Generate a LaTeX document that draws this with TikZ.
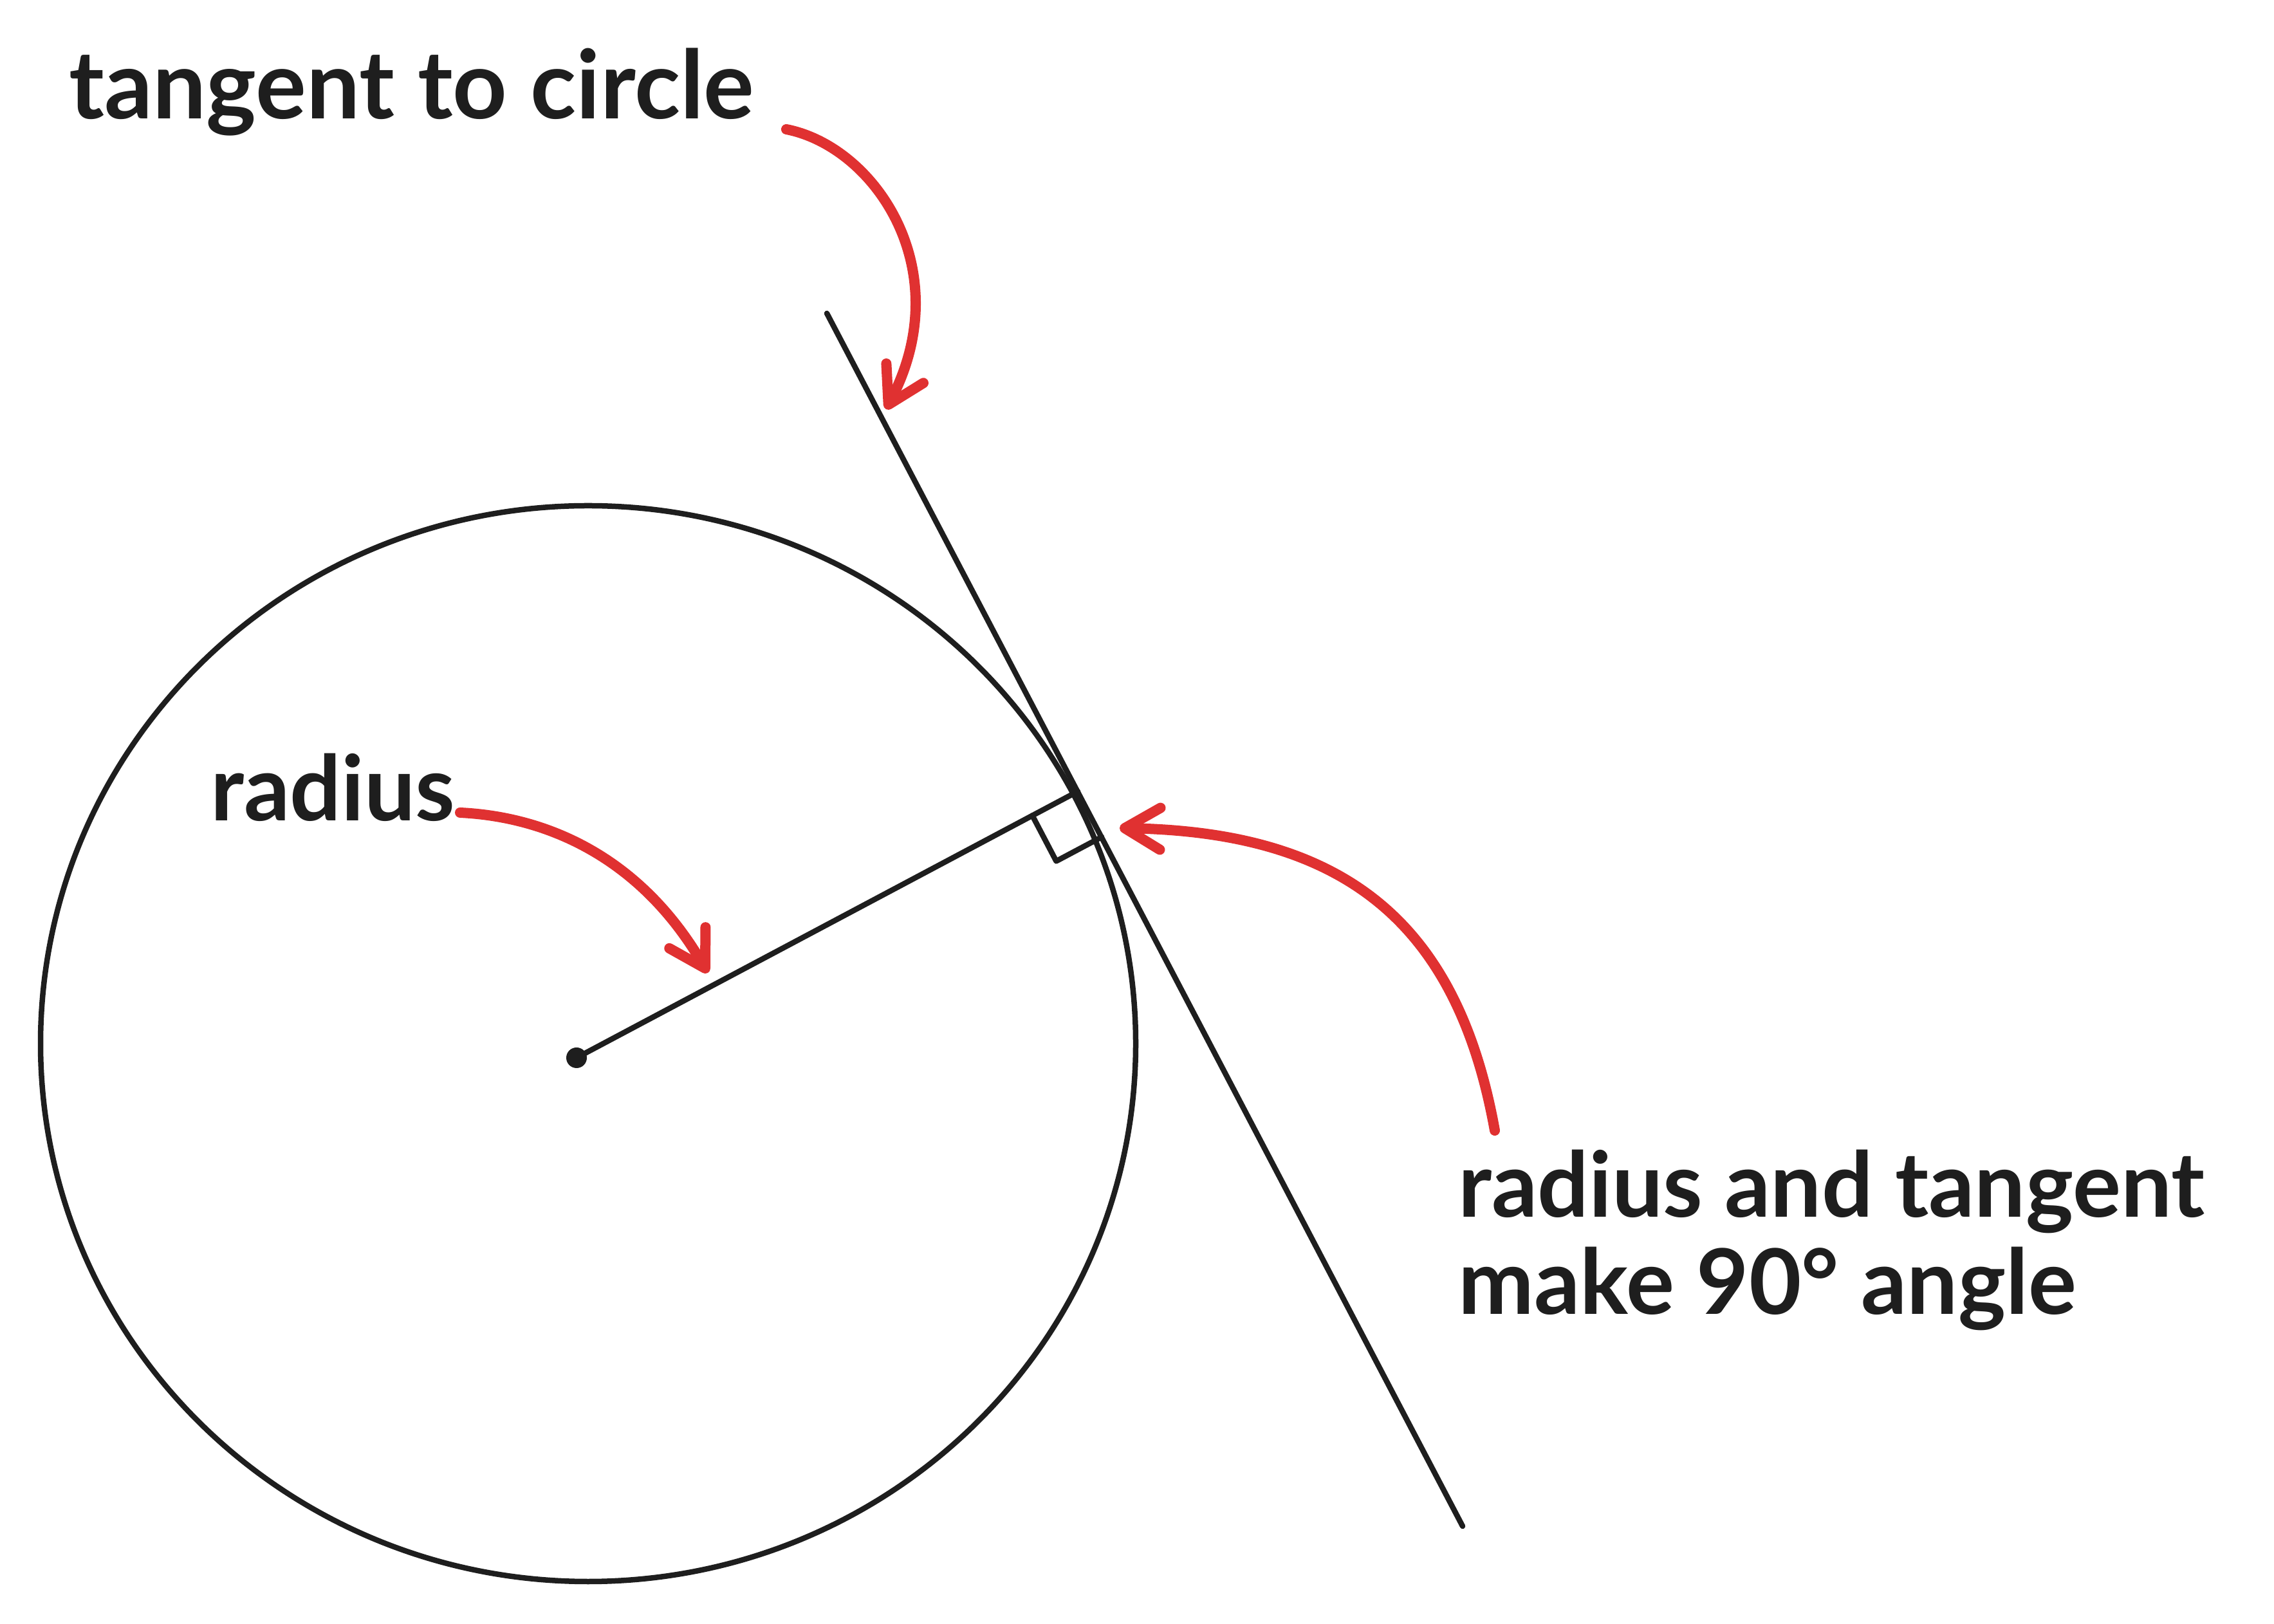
\documentclass[tikz,border=0pt]{standalone}
\usepackage{fontspec}
\setmainfont{Lato}
\usetikzlibrary{arrows.meta, calc}
\definecolor{ink}{HTML}{1E1E1E}
\definecolor{marker}{HTML}{E03131}
\tikzstyle{note} = [inner sep=0pt, anchor=base west, text=ink, font=\fontsize{40}{43}\selectfont\bfseries, align=left]
\tikzstyle{stroke} = [draw=ink, line width=0.85mm, line cap=round, line join=round]
\tikzstyle{pointer} = [draw=marker, line width=1.6mm, line cap=round, -{Straight Barb[length=5.5mm, width=6.5mm, round]}]
\tikzstyle{dot} = [circle, fill=ink, inner sep=0pt, minimum size=3.2mm]

\begin{document}
\begin{tikzpicture}
\useasboundingbox (0,0) rectangle (35.34,25.23);

% labels
\node[note, font=\fontsize{42}{45}\selectfont\bfseries] (tangentlbl) at (1.07,23.38) {tangent to circle};
\node[note] (radiuslbl)  at (3.27,12.47) {radius};
\node[note] (anglelbl)   at (22.66,4.80) {radius and tangent\\make 90° angle};	%base = last line

% circle, radius and tangent
\coordinate (O) at (9.14,9.01);
\node[dot] (centre) at (8.96,8.79) {};
\coordinate (top) at (12.85,20.36);
\coordinate (bottom) at (22.73,1.51);
\coordinate (touch) at (16.75,12.93);
\coordinate (sqa) at ($(touch)!0.8cm!(centre)$);
\coordinate (sqb) at ($(touch)!0.8cm!(bottom)$);

\draw[stroke] (O) ellipse [x radius=8.51, y radius=8.36];
\draw[stroke] (top) -- (bottom);
\draw[stroke] (centre.center) -- (touch);
\draw[stroke] (sqa) -- ($(sqa)+(sqb)-(touch)$) -- (sqb);	%right angle mark

% red pointers
\coordinate (tangentfrom) at (12.22,23.22);
\coordinate (tangentto)   at (13.77,18.87);
\coordinate (radiusfrom)  at (7.15,12.60);
\coordinate (radiusto)    at (11.00,10.11);
\coordinate (anglefrom)   at (23.23,7.66);
\coordinate (angleto)     at (17.40,12.36);
\draw[pointer] (tangentfrom) .. controls (13.60,22.95) and (14.90,21.03) .. (tangentto);
\draw[pointer] (radiusfrom) .. controls (8.60,12.53) and (10.00,11.83) .. (radiusto);
\draw[pointer] (anglefrom) .. controls (22.65,10.89) and (20.90,12.30) .. (angleto);
\end{tikzpicture}
\end{document}
